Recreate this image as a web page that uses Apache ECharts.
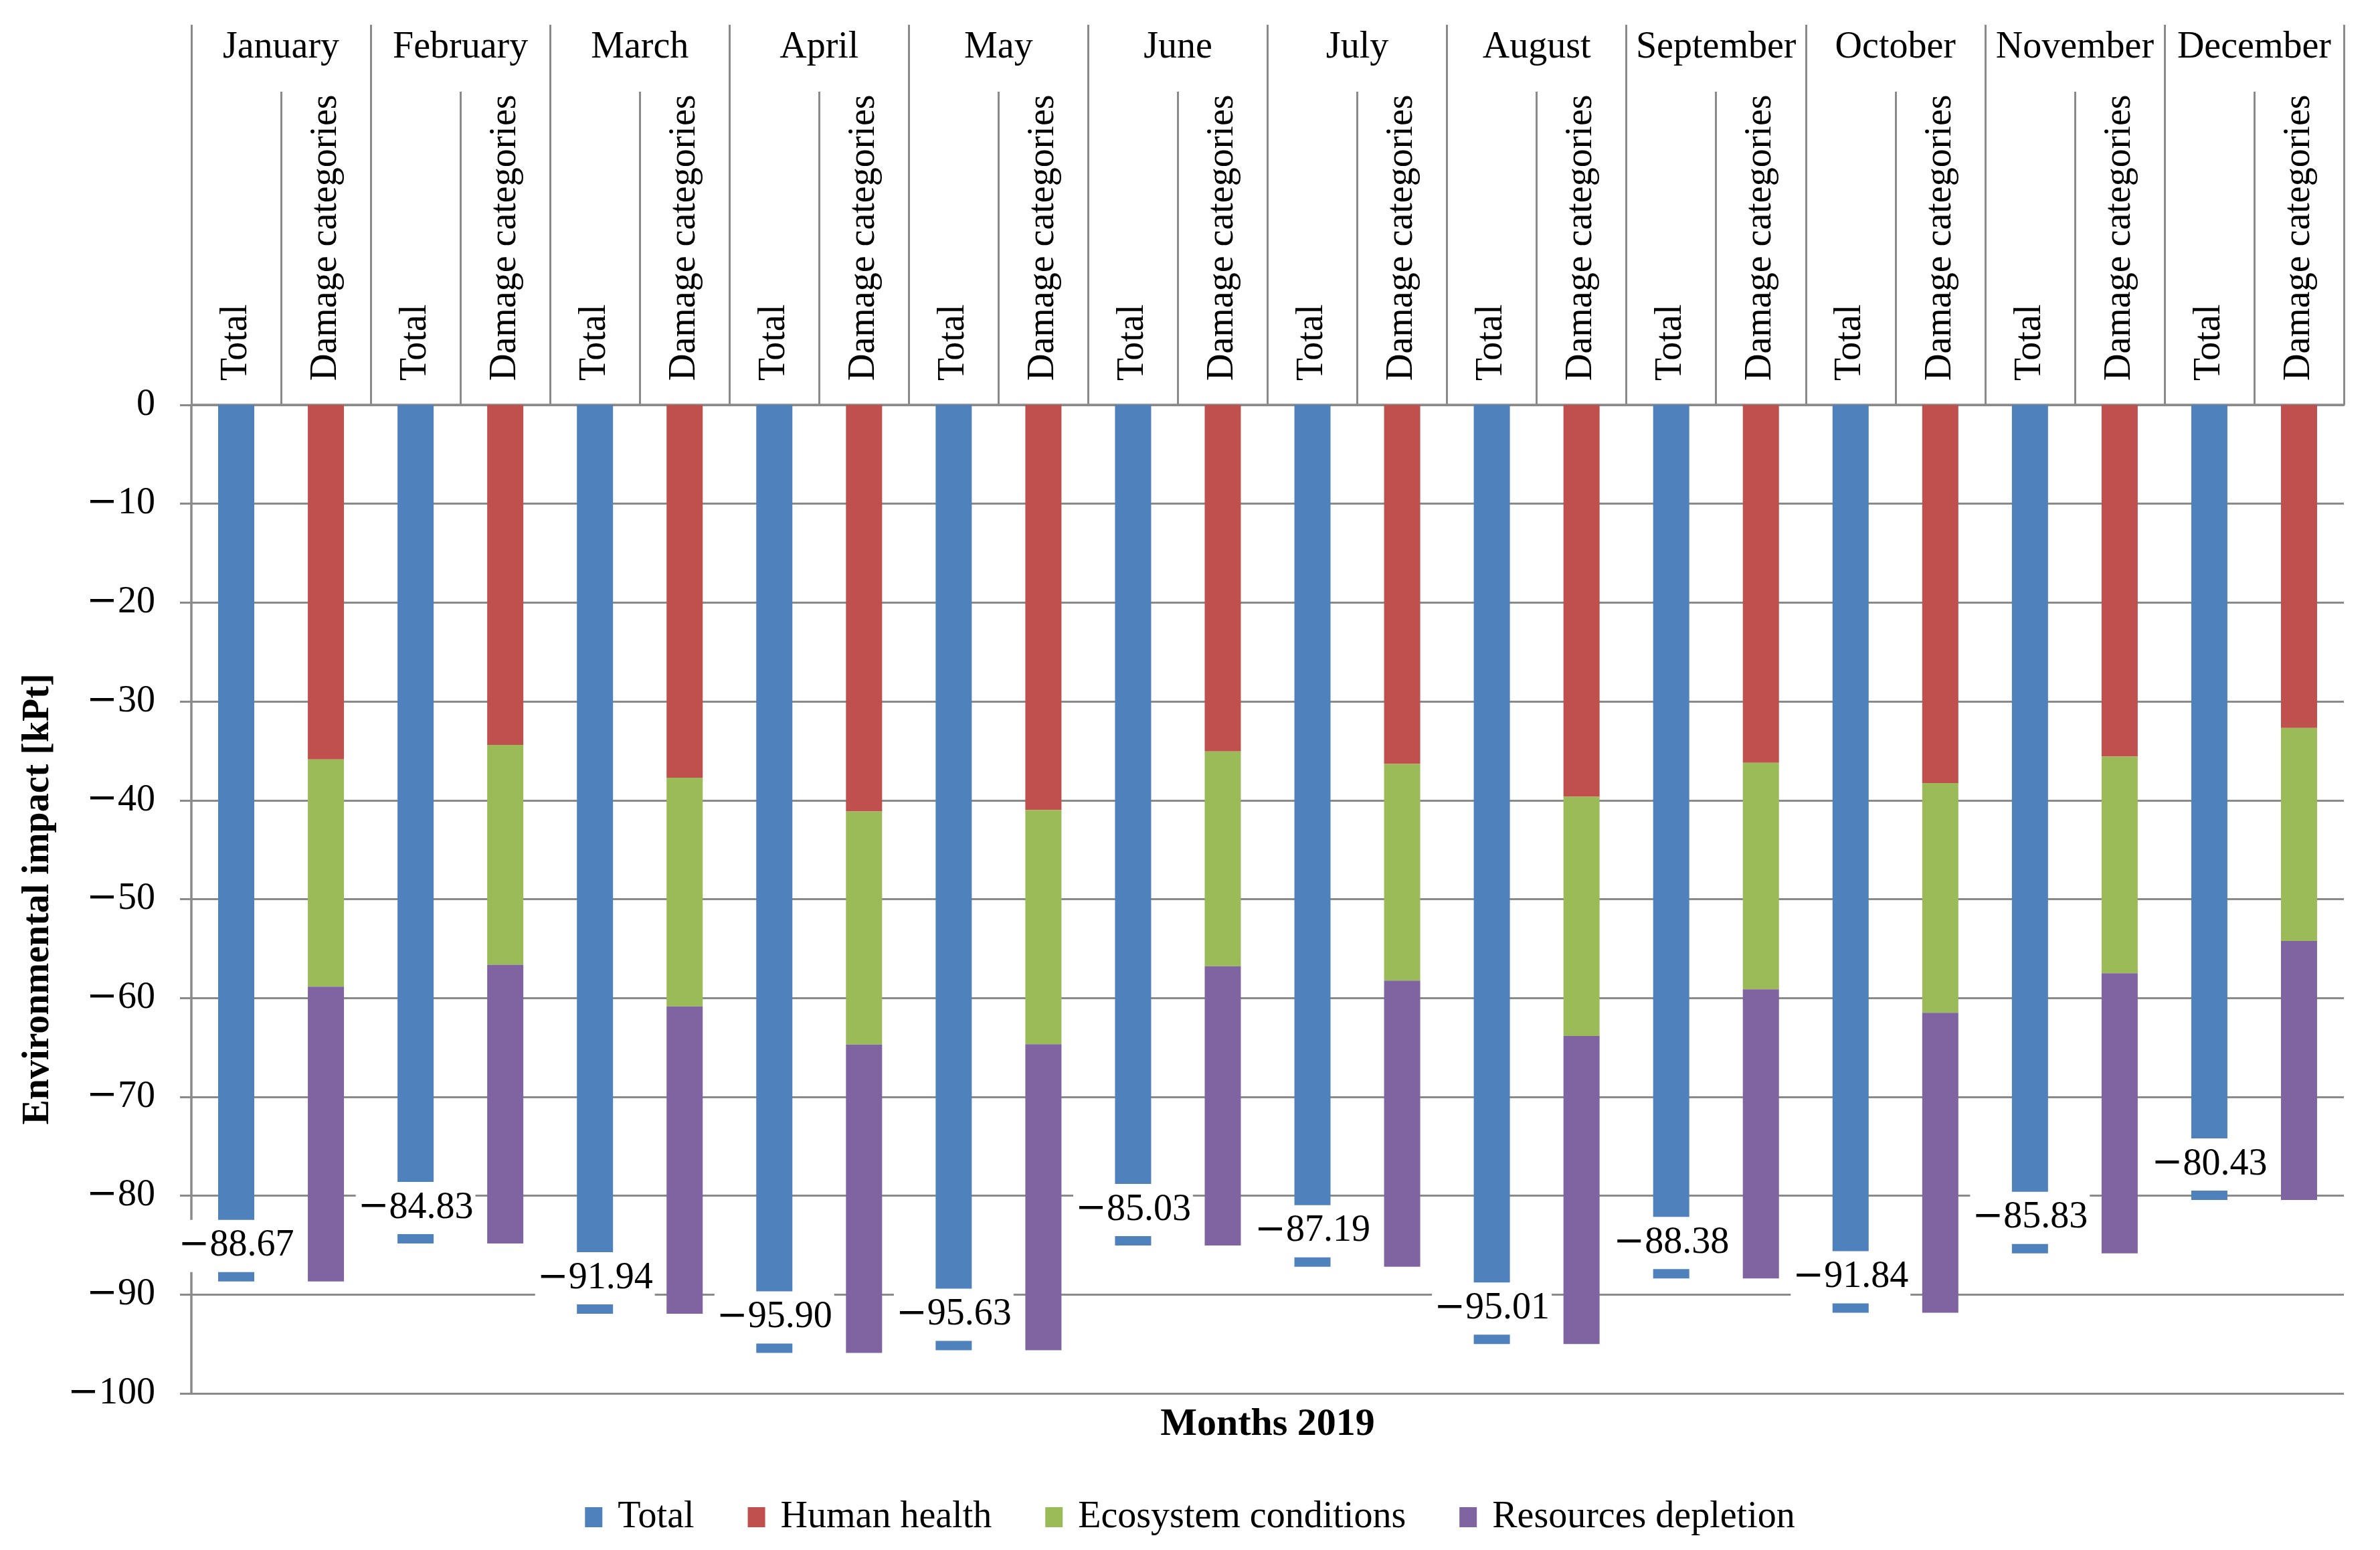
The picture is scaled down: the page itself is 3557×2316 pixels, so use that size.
<!DOCTYPE html>
<html>
<head>
<meta charset="utf-8">
<style>
  html, body { margin: 0; padding: 0; background: #fff; }
  #chart { width: 3557px; height: 2316px; }
</style>
<script src="https://cdn.jsdelivr.net/npm/echarts@6/dist/echarts.min.js"></script>
</head>
<body>
<div id="chart"></div>
<script>
// ---- data (kPt, 2019) ----
const months = ['January','February','March','April','May','June','July','August','September','October','November','December'];
const subCategories = ['Total', 'Damage categories'];
const totalValues  = [-88.67, -84.83, -91.94, -95.90, -95.63, -85.03, -87.19, -95.01, -88.38, -91.84, -85.83, -80.43];
const humanHealth  = [-35.86, -34.40, -37.71, -41.13, -40.97, -35.06, -36.33, -39.64, -36.20, -38.26, -35.58, -32.68];
const ecosystem    = [-22.99, -22.23, -23.14, -23.58, -23.71, -21.73, -21.92, -24.21, -22.93, -23.24, -21.91, -21.55];
const resources    = [-29.82, -28.20, -31.09, -31.19, -30.95, -28.24, -28.94, -31.16, -29.25, -30.34, -28.34, -26.20];
const seriesNames  = ['Total', 'Human health', 'Ecosystem conditions', 'Resources depletion'];
const colors       = ['#4F81BD', '#C0504D', '#9BBB59', '#8064A2'];

// ---- build category lists ----
const subAxisData = [];
months.forEach(() => subCategories.forEach(s => subAxisData.push(s)));
function onSlot(arr, slot) {
  const out = [];
  arr.forEach(v => { out.push(slot === 0 ? v : '-'); out.push(slot === 1 ? v : '-'); });
  return out;
}

const FONT = 'Liberation Serif';
const GRID_COLOR = '#8a8a8a';
const minusRich = { m: { fontFamily: 'DejaVu Serif', fontSize: 56, color: '#000' } };
function fmtNum(v, dec) {
  const s = Math.abs(v).toFixed(dec);
  return v < 0 ? '{m|\u2212}' + s : s;
}

const chart = echarts.init(document.getElementById('chart'), null, { renderer: 'canvas' });
chart.setOption({
  backgroundColor: '#fff',
  animation: false,
  textStyle: { fontFamily: FONT, color: '#000' },
  grid: { left: 286, right: 54, top: 605, bottom: 234, containLabel: false },
  legend: {
    data: seriesNames,
    bottom: 16,
    left: 'center',
    itemWidth: 26, itemHeight: 30, itemGap: 80,
    icon: 'rect',
    textStyle: { fontFamily: FONT, fontSize: 56, color: '#000', padding: [0, 0, 0, 18] }
  },
  xAxis: [
    {
      type: 'category', data: subAxisData, position: 'top',
      axisLine: { onZero: false, lineStyle: { color: GRID_COLOR, width: 3.5 } },
      axisTick: { show: true, length: 468, lineStyle: { color: GRID_COLOR, width: 3 } },
      axisLabel: { rotate: -90, margin: 36, fontFamily: FONT, fontSize: 56, color: '#000', interval: 0 },
      splitLine: { show: false }
    },
    {
      type: 'category', data: months, position: 'top',
      axisLine: { show: false, onZero: false },
      axisTick: { show: true, length: 568, lineStyle: { color: GRID_COLOR, width: 3 } },
      axisLabel: { margin: 534, verticalAlign: 'middle', fontFamily: FONT, fontSize: 56, color: '#000', interval: 0 },
      splitLine: { show: false }
    },
    {
      type: 'category', data: months, position: 'bottom',
      axisLine: { show: false, onZero: false }, axisTick: { show: false }, axisLabel: { show: false },
      name: 'Months 2019', nameLocation: 'middle', nameGap: 18,
      nameTextStyle: { fontFamily: FONT, fontSize: 58, fontWeight: 'bold', color: '#000', verticalAlign: 'top' }
    }
  ],
  yAxis: {
    type: 'value', min: -100, max: 0, interval: 10,
    name: 'Environmental impact [kPt]', nameLocation: 'middle', nameGap: 200,
    nameTextStyle: { fontFamily: FONT, fontSize: 56, fontWeight: 'bold', color: '#000' },
    axisLine: { show: true, lineStyle: { color: GRID_COLOR, width: 3.5 } },
    axisTick: { show: true, length: 17, lineStyle: { color: GRID_COLOR, width: 3 } },
    axisLabel: {
      margin: 54, fontFamily: FONT, fontSize: 56, color: '#000',
      formatter: v => fmtNum(v, 0), rich: minusRich
    },
    splitLine: { show: true, lineStyle: { color: GRID_COLOR, width: 3 } }
  },
  series: [
    {
      name: seriesNames[0], type: 'bar', xAxisIndex: 0, stack: 'total', barWidth: 54, barGap: '-100%',
      itemStyle: { color: colors[0] },
      data: onSlot(totalValues, 0),
      label: {
        show: true, position: 'insideBottom', distance: 14,
        backgroundColor: '#fff', padding: [11, 3, 11, 3],
        fontFamily: FONT, fontSize: 56, color: '#000',
        formatter: p => fmtNum(p.value, 2), rich: minusRich
      }
    },
    { name: seriesNames[1], type: 'bar', xAxisIndex: 0, stack: 'dmg', barWidth: 54, barGap: '-100%', itemStyle: { color: colors[1] }, data: onSlot(humanHealth, 1) },
    { name: seriesNames[2], type: 'bar', xAxisIndex: 0, stack: 'dmg', barWidth: 54, barGap: '-100%', itemStyle: { color: colors[2] }, data: onSlot(ecosystem, 1) },
    { name: seriesNames[3], type: 'bar', xAxisIndex: 0, stack: 'dmg', barWidth: 54, barGap: '-100%', itemStyle: { color: colors[3] }, data: onSlot(resources, 1) }
  ]
});
</script>
</body>
</html>
